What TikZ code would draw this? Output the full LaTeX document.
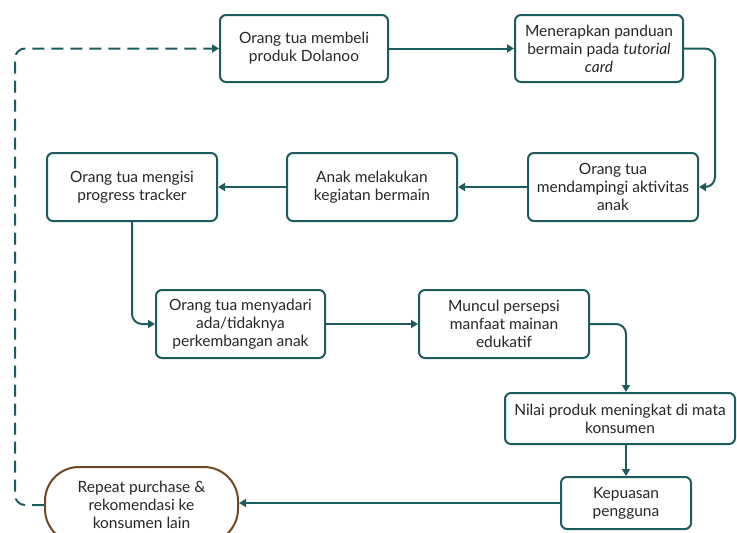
\documentclass[tikz,border=0pt]{standalone}
\usepackage{fontspec}
\setmainfont{Lato}
\usetikzlibrary{arrows.meta,calc}
\definecolor{teal}{RGB}{28,92,94}
\definecolor{brownb}{RGB}{112,72,38}
\begin{document}
\begin{tikzpicture}[x=1pt,y=-1pt,
  box/.style={draw=teal, line width=2pt, rounded corners=6pt, fill=white, align=center,
    inner sep=1pt, font=\fontsize{15.5}{18}\selectfont, text=black!85},
  oval/.style={draw=brownb, line width=2pt, rounded corners=34pt, fill=white, align=center,
    inner sep=1pt, font=\fontsize{15.5}{18}\selectfont, text=black!85},
  arr/.style={draw=teal, line width=2pt, rounded corners=10pt,
    -{Triangle[length=7pt,width=8pt]}},
  dasharr/.style={arr, dash pattern=on 12pt off 7pt}]
\useasboundingbox (0,0) rectangle (737,533);
\node[box, minimum width=168, minimum height=67] (A) at (304,48.5) {Orang tua membeli\\produk Dolanoo};
\node[box, minimum width=168, minimum height=67] (B) at (599,48.5) {Menerapkan panduan\\bermain pada \textit{tutorial}\\\textit{card}};
\node[box, minimum width=170, minimum height=68] (C) at (613,187) {Orang tua\\mendampingi aktivitas\\anak};
\node[box, minimum width=170, minimum height=68] (D) at (372,187) {Anak melakukan\\kegiatan bermain};
\node[box, minimum width=170, minimum height=68] (E) at (132,187) {Orang tua mengisi\\progress tracker};
\node[box, minimum width=169, minimum height=68] (F) at (240.5,324) {Orang tua menyadari\\ada/tidaknya\\perkembangan anak};
\node[box, minimum width=170, minimum height=68] (G) at (504,324) {Muncul persepsi\\manfaat mainan\\edukatif};
\node[box, minimum width=230, minimum height=51] (H) at (620,418.5) {Nilai produk meningkat di mata\\konsumen};
\node[box, minimum width=130, minimum height=52] (I) at (626,503) {Kepuasan\\pengguna};
\node[oval, minimum width=193, minimum height=76] (J) at (141.5,505) {Repeat purchase \&\\rekomendasi ke\\konsumen lain};
\coordinate (L) at (15,0);
\coordinate (R) at (715,0);
\draw[arr] (A.east) -- (B.west);
\draw[arr] (B.east) -- (B.east -| R) -- (C.east -| R) -- (C.east);
\draw[arr] (C.west) -- (D.east);
\draw[arr] (D.west) -- (E.east);
\draw[arr] (E.south) |- (F.west);
\draw[arr] (F.east) -- (G.west);
\draw[arr] (G.east) -| (H.north -| I.north);
\draw[arr] (H.south -| I.north) -- (I.north);
\draw[arr] (I.west) -- (I.west -| J.east);
\draw[dasharr] (J.west) -- (J.west -| L) -- (A.west -| L) -- (A.west);
\end{tikzpicture}
\end{document}
